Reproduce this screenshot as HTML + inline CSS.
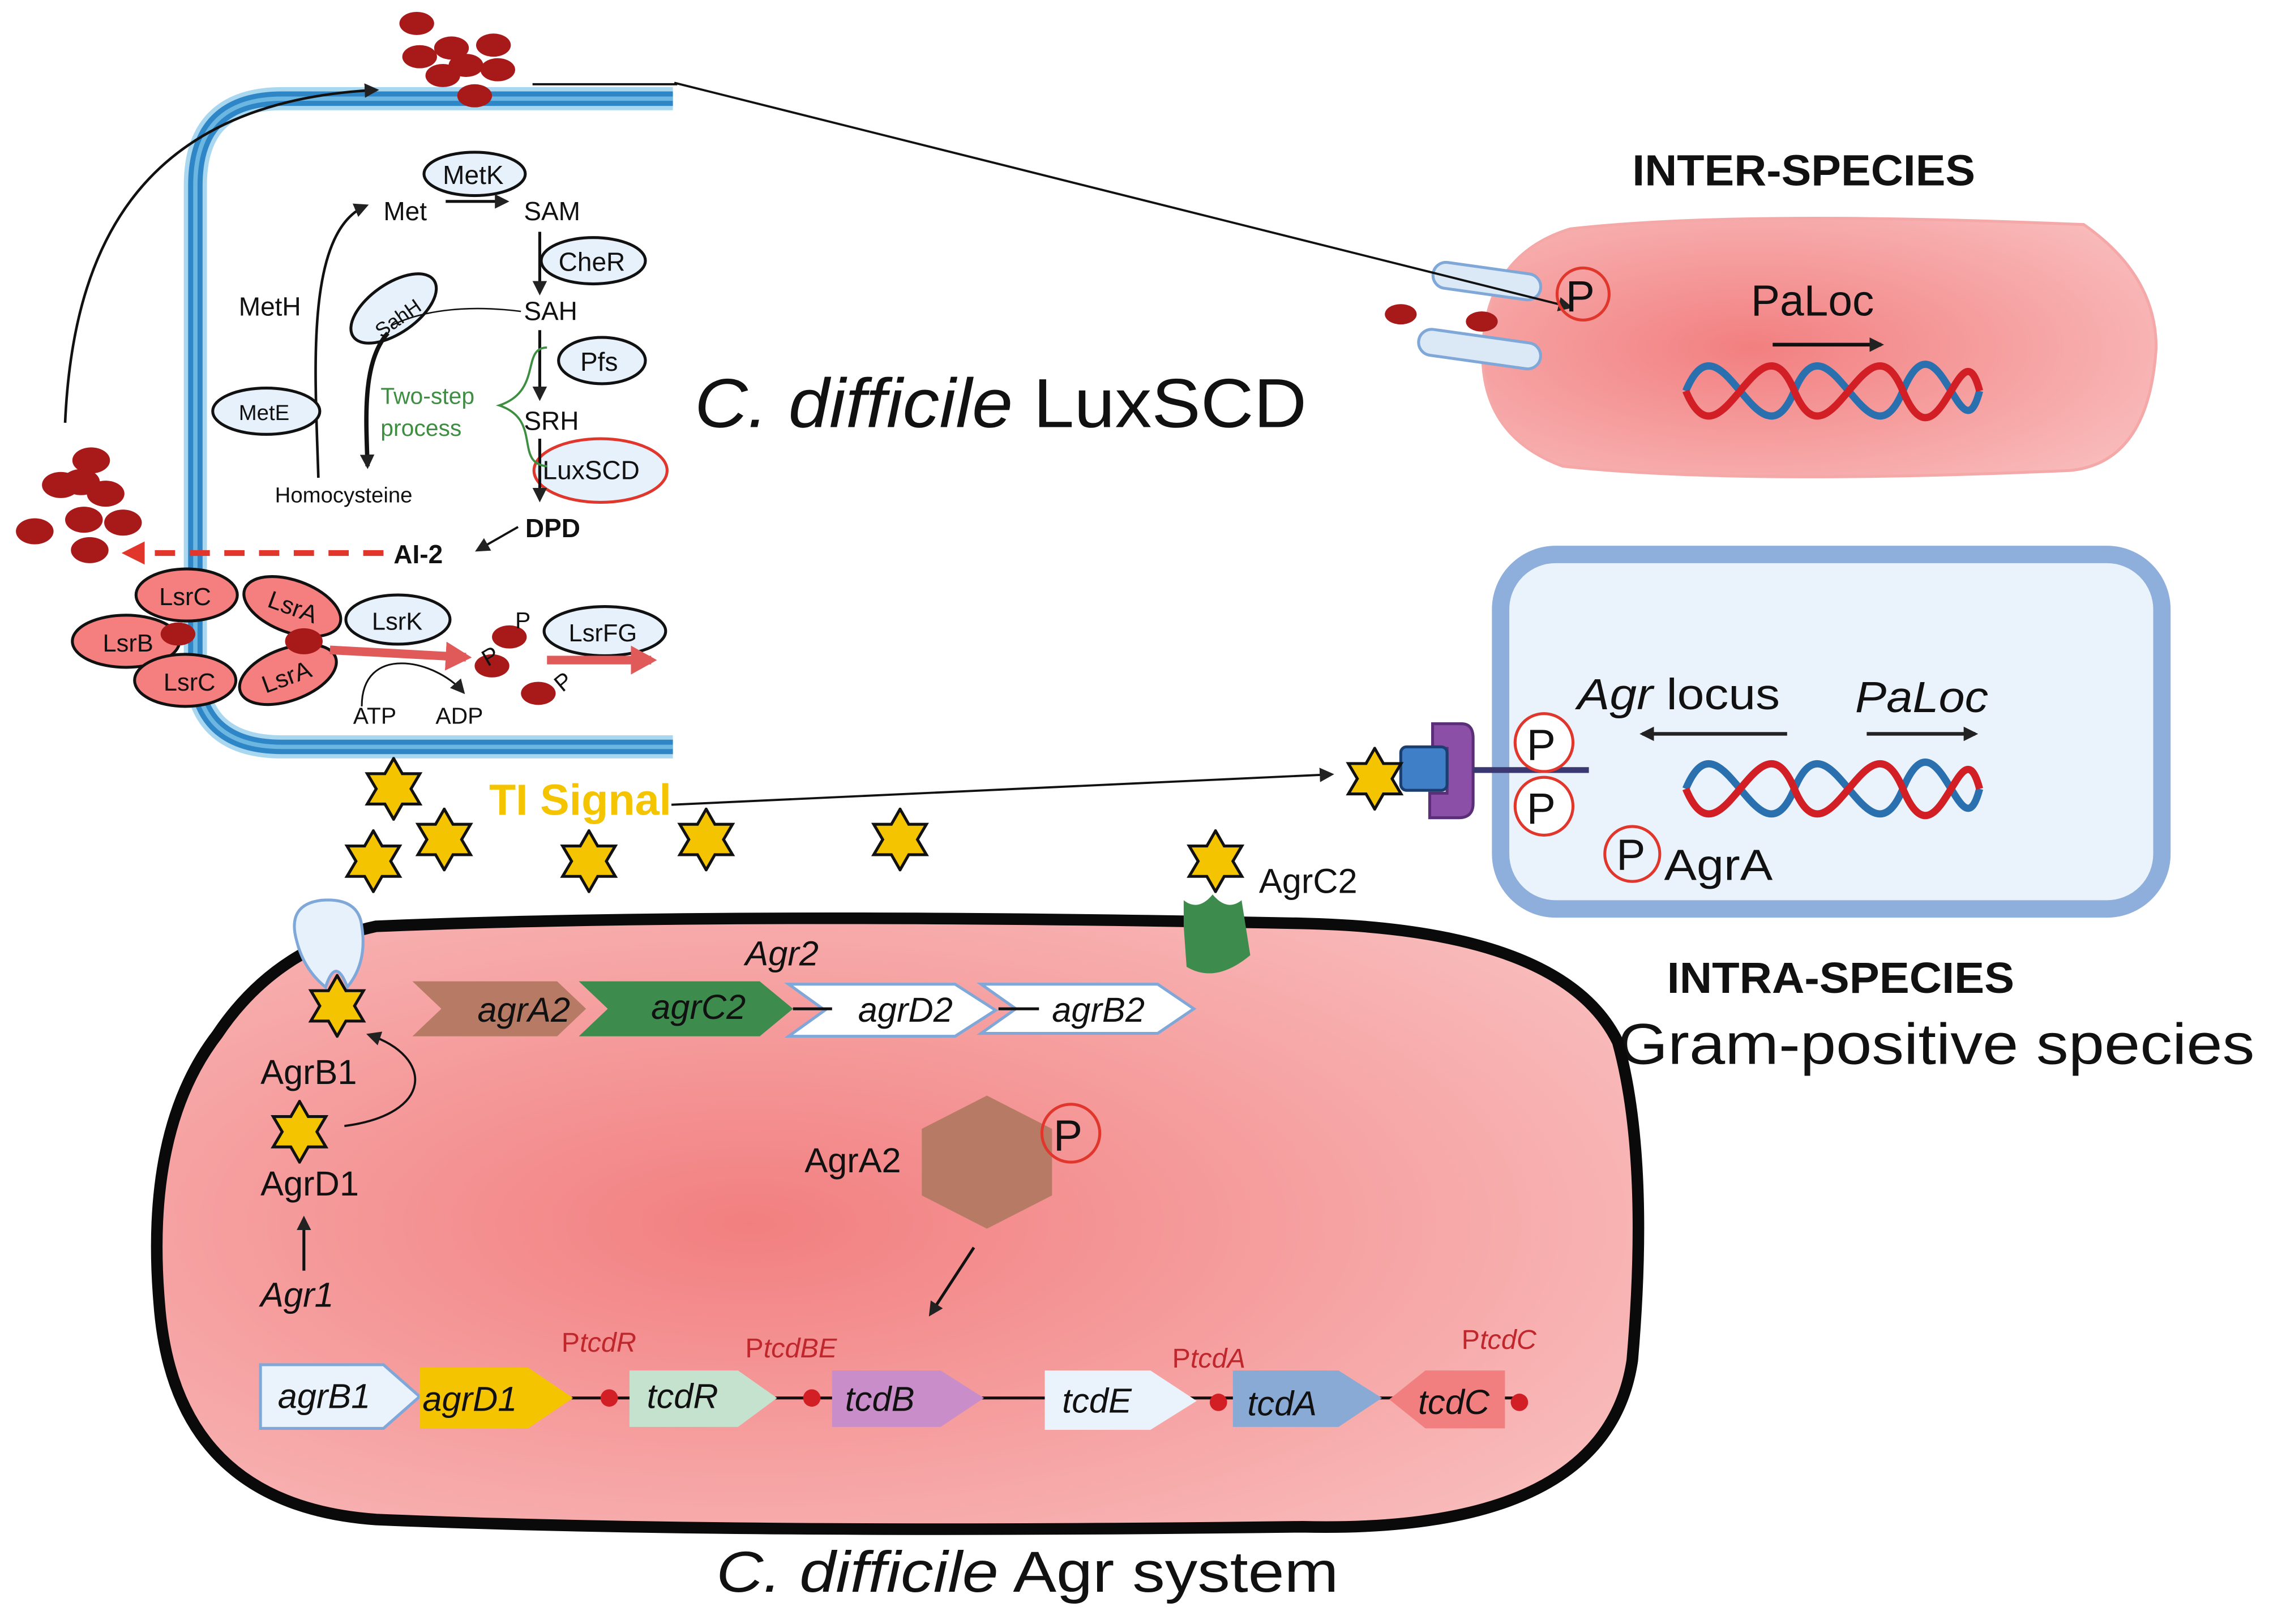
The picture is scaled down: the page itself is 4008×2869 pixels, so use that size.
<!DOCTYPE html>
<html><head><meta charset="utf-8"><style>
html,body{margin:0;padding:0;background:#fff}
svg{display:block}
text{font-family:"Liberation Sans",sans-serif}
</style></head><body>
<svg width="4008" height="2869" viewBox="0 0 1568 1122" xmlns="http://www.w3.org/2000/svg">
<defs>
<radialGradient id="pk" cx="0.4" cy="0.5" r="0.7">
<stop offset="0" stop-color="#f27f80"/><stop offset="1" stop-color="#f9bcbc"/></radialGradient>
<marker id="ah" markerWidth="10" markerHeight="10" refX="8" refY="5" orient="auto" markerUnits="userSpaceOnUse"><path d="M0,0 L10,5 L0,10 z" fill="#222"/></marker>
<marker id="ahr" markerWidth="16" markerHeight="16" refX="12" refY="8" orient="auto" markerUnits="userSpaceOnUse"><path d="M0,0 L16,8 L0,16 z" fill="#e0362c"/></marker>
<marker id="ahp" markerWidth="18" markerHeight="20" refX="14" refY="10" orient="auto" markerUnits="userSpaceOnUse"><path d="M0,0 L18,10 L0,20 z" fill="#e05a5a"/></marker>
<symbol id="st" viewBox="-22 -22 44 44"><path d="M0,-21 L6,-10.5 L18.2,-10.5 L12,0 L18.2,10.5 L6,10.5 L0,21 L-6,10.5 L-18.2,10.5 L-12,0 L-18.2,-10.5 L-6,-10.5 Z" fill="#f5c400" stroke="#111" stroke-width="2"/></symbol>
</defs>

<!-- top-left membrane -->
<path d="M465,68 L195,68 Q135,68 135,128 L135,458 Q135,516 195,516 L465,516" fill="none" stroke="#a9d7f0" stroke-width="16"/>
<path d="M465,68 L195,68 Q135,68 135,128 L135,458 Q135,516 195,516 L465,516" fill="none" stroke="#2f86c6" stroke-width="10"/>
<path d="M465,68 L195,68 Q135,68 135,128 L135,458 Q135,516 195,516 L465,516" fill="none" stroke="#6cb7e2" stroke-width="3"/>

<!-- red particles top -->
<g fill="#a8191a">
<ellipse cx="288" cy="16" rx="12" ry="8"/><ellipse cx="312" cy="33" rx="12" ry="8"/><ellipse cx="341" cy="31" rx="12" ry="8"/>
<ellipse cx="290" cy="39" rx="12" ry="8"/><ellipse cx="322" cy="45" rx="12" ry="8"/><ellipse cx="344" cy="48" rx="12" ry="8"/>
<ellipse cx="306" cy="52" rx="12" ry="8"/><ellipse cx="328" cy="66" rx="12" ry="8"/>
<ellipse cx="63" cy="318" rx="13" ry="9"/><ellipse cx="42" cy="335" rx="13" ry="9"/><ellipse cx="73" cy="341" rx="13" ry="9"/><ellipse cx="56" cy="333" rx="13" ry="9"/>
<ellipse cx="24" cy="367" rx="13" ry="9"/><ellipse cx="58" cy="359" rx="13" ry="9"/><ellipse cx="85" cy="361" rx="13" ry="9"/><ellipse cx="62" cy="380" rx="13" ry="9"/>
</g>
<path d="M45,292 C50,180 90,70 260,62" fill="none" stroke="#111" stroke-width="1.8" marker-end="url(#ah)"/>
<line x1="368" y1="58" x2="468" y2="58" stroke="#111" stroke-width="1.5"/>

<!-- pathway -->
<g font-size="18" fill="#111">
<ellipse cx="328" cy="120" rx="35" ry="15" fill="#e6f1fb" stroke="#111" stroke-width="2"/><text x="306" y="127">MetK</text>
<text x="265" y="152">Met</text><text x="362" y="152">SAM</text>
<line x1="308" y1="139" x2="350" y2="139" stroke="#111" stroke-width="2" marker-end="url(#ah)"/>
<ellipse cx="410" cy="180" rx="36" ry="16" fill="#e6f1fb" stroke="#111" stroke-width="2"/><text x="386" y="187">CheR</text>
<line x1="373" y1="160" x2="373" y2="202" stroke="#111" stroke-width="2" marker-end="url(#ah)"/>
<text x="362" y="221">SAH</text>
<ellipse cx="272" cy="213" rx="34" ry="17" transform="rotate(-35 272 213)" fill="#e6f1fb" stroke="#111" stroke-width="2"/>
<text x="256" y="226" font-size="14" transform="rotate(-35 272 218)">SahH</text>
<path d="M360,215 C320,210 290,215 270,225" fill="none" stroke="#111" stroke-width="1"/>
<path d="M268,230 C250,250 253,290 254,322" fill="none" stroke="#111" stroke-width="3" marker-end="url(#ah)"/>
<ellipse cx="416" cy="249" rx="30" ry="16" fill="#e6f1fb" stroke="#111" stroke-width="2"/><text x="401" y="256">Pfs</text>
<line x1="373" y1="228" x2="373" y2="275" stroke="#111" stroke-width="2" marker-end="url(#ah)"/>
<text x="362" y="297">SRH</text>
<ellipse cx="415" cy="325" rx="46" ry="22" fill="#e6f1fb" stroke="#e0362c" stroke-width="2"/><text x="375" y="331">LuxSCD</text>
<line x1="373" y1="303" x2="373" y2="345" stroke="#111" stroke-width="2" marker-end="url(#ah)"/>
<path d="M378,240 C360,240 375,270 345,280 C375,290 355,320 378,322" fill="none" stroke="#3e8e41" stroke-width="1.5"/>
<text x="263" y="279" fill="#3e8e41" font-size="16">Two-step</text><text x="263" y="301" fill="#3e8e41" font-size="16">process</text>
<text x="165" y="218">MetH</text>
<path d="M220,330 C218,260 210,160 253,142" fill="none" stroke="#111" stroke-width="1.8" marker-end="url(#ah)"/>
<ellipse cx="184" cy="284" rx="37" ry="16" fill="#e6f1fb" stroke="#111" stroke-width="2"/><text x="165" y="290" font-size="15">MetE</text>
<text x="190" y="347" font-size="15">Homocysteine</text>
<text x="363" y="371" font-weight="bold">DPD</text>
<line x1="358" y1="364" x2="330" y2="380" stroke="#111" stroke-width="1.5" marker-end="url(#ah)"/>
<text x="272" y="389" font-weight="bold">AI-2</text>
</g>
<line x1="265" y1="382" x2="88" y2="382" stroke="#e0362c" stroke-width="4" stroke-dasharray="14,10" marker-end="url(#ahr)"/>

<!-- Lsr -->
<g font-size="17" fill="#111" stroke-width="2">
<ellipse cx="129" cy="411" rx="35" ry="18" fill="#f47f7e" stroke="#111"/><text x="110" y="418">LsrC</text>
<ellipse cx="87" cy="443" rx="37" ry="18" fill="#f47f7e" stroke="#111"/><text x="71" y="450">LsrB</text>
<ellipse cx="128" cy="470" rx="35" ry="18" fill="#f47f7e" stroke="#111"/><text x="113" y="477">LsrC</text>
<ellipse cx="202" cy="419" rx="35" ry="18" transform="rotate(20 202 419)" fill="#f47f7e" stroke="#111"/><text x="185" y="425" transform="rotate(20 202 419)">LsrA</text>
<ellipse cx="199" cy="466" rx="35" ry="18" transform="rotate(-20 199 466)" fill="#f47f7e" stroke="#111"/><text x="180" y="473" transform="rotate(-20 199 466)">LsrA</text>
<ellipse cx="275" cy="428" rx="36" ry="17" fill="#e6f1fb" stroke="#111"/><text x="257" y="435">LsrK</text>
<ellipse cx="418" cy="436" rx="42" ry="17" fill="#e6f1fb" stroke="#111"/><text x="393" y="443">LsrFG</text>
</g>
<g fill="#a8191a"><ellipse cx="123" cy="438" rx="12" ry="8"/><ellipse cx="210" cy="443" rx="13" ry="9"/>
<ellipse cx="352" cy="440" rx="12" ry="8"/><ellipse cx="340" cy="460" rx="12" ry="8"/><ellipse cx="372" cy="479" rx="12" ry="8"/></g>
<g font-size="16" fill="#111"><text x="356" y="434">P</text><text x="333" y="458" transform="rotate(-30 340 452)">P</text><text x="383" y="477" transform="rotate(-40 388 470)">P</text>
<text x="244" y="500">ATP</text><text x="301" y="500">ADP</text></g>
<path d="M250,488 C250,445 300,455 320,478" fill="none" stroke="#111" stroke-width="1.2" marker-end="url(#ah)"/>
<line x1="228" y1="449" x2="322" y2="454" stroke="#e05a5a" stroke-width="6" marker-end="url(#ahp)"/>
<line x1="378" y1="456" x2="450" y2="456" stroke="#e05a5a" stroke-width="6" marker-end="url(#ahp)"/>

<text x="480" y="295" font-size="48" fill="#111" textLength="423" lengthAdjust="spacingAndGlyphs"><tspan font-style="italic">C. difficile</tspan> LuxSCD</text>

<!-- inter-species cell -->
<text x="1128" y="128" font-size="30" font-weight="bold" fill="#111" textLength="237" lengthAdjust="spacingAndGlyphs">INTER-SPECIES</text>
<path d="M1085,158 Q1200,145 1440,155 Q1490,190 1490,240 Q1485,320 1430,325 Q1200,335 1080,322 Q1020,300 1025,235 Q1030,175 1085,158 Z" fill="url(#pk)" stroke="#f5a8a8" stroke-width="2"/>
<g fill="#a8191a"><ellipse cx="968" cy="217" rx="11" ry="7"/><ellipse cx="1024" cy="222" rx="11" ry="7"/></g>
<rect x="990" y="185" width="75" height="18" rx="9" fill="#dbe9f7" stroke="#7fa7d8" stroke-width="2" transform="rotate(8 1027 194)"/>
<rect x="980" y="232" width="85" height="18" rx="9" fill="#dbe9f7" stroke="#7fa7d8" stroke-width="2" transform="rotate(8 1022 241)"/>
<line x1="466" y1="57" x2="1085" y2="212" stroke="#111" stroke-width="1.5" marker-end="url(#ah)"/>
<circle cx="1094" cy="203" r="18" fill="none" stroke="#e0362c" stroke-width="2"/><text x="1082" y="215" font-size="30" fill="#111">P</text>
<text x="1210" y="218" font-size="30" fill="#111">PaLoc</text>
<line x1="1225" y1="238" x2="1300" y2="238" stroke="#111" stroke-width="2.5" marker-end="url(#ah)"/>
<g fill="none" stroke-width="5">
<path d="M1165,270 C1190,210 1215,330 1240,270 C1265,210 1290,330 1315,270 C1340,210 1355,320 1368,270" stroke="#2a6fae"/>
<path d="M1165,270 C1190,330 1215,210 1240,270 C1265,330 1290,210 1315,270 C1340,330 1355,220 1368,270" stroke="#d11f25"/>
</g>

<!-- intra-species box -->
<rect x="1037" y="383" width="457" height="245" rx="38" fill="#eaf2fb" stroke="#8eaedc" stroke-width="12"/>
<text x="1090" y="490" font-size="30" fill="#111" textLength="140" lengthAdjust="spacingAndGlyphs"><tspan font-style="italic">Agr</tspan> locus</text>
<text x="1282" y="492" font-size="30" font-style="italic" fill="#111" textLength="92" lengthAdjust="spacingAndGlyphs">PaLoc</text>
<line x1="1235" y1="507" x2="1135" y2="507" stroke="#222" stroke-width="2.5" marker-end="url(#ah)"/>
<line x1="1290" y1="507" x2="1365" y2="507" stroke="#222" stroke-width="2.5" marker-end="url(#ah)"/>
<g fill="none" stroke-width="5">
<path d="M1165,545 C1190,485 1215,605 1240,545 C1265,485 1290,605 1315,545 C1340,485 1355,595 1368,545" stroke="#2a6fae"/>
<path d="M1165,545 C1190,605 1215,485 1240,545 C1265,605 1290,485 1315,545 C1340,605 1355,495 1368,545" stroke="#d11f25"/>
</g>
<path d="M990,500 L1010,500 Q1018,500 1018,510 L1018,555 Q1018,565 1008,565 L988,565 L988,548 L1000,548 L1000,517 L990,517 Z" fill="#8b4fa8" stroke="#5b2f78" stroke-width="2"/>
<rect x="968" y="516" width="32" height="30" rx="4" fill="#3f7fc8" stroke="#1b3f70" stroke-width="2"/>
<line x1="1018" y1="532" x2="1098" y2="532" stroke="#3b3770" stroke-width="4"/>
<g font-size="30" fill="#111">
<circle cx="1067" cy="513" r="20" fill="#fff" stroke="#e0362c" stroke-width="2"/><text x="1055" y="525">P</text>
<circle cx="1067" cy="557" r="20" fill="#fff" stroke="#e0362c" stroke-width="2"/><text x="1055" y="569">P</text>
<circle cx="1128" cy="590" r="19" fill="none" stroke="#e0362c" stroke-width="2"/><text x="1117" y="601">P</text>
<text x="1150" y="608" textLength="75" lengthAdjust="spacingAndGlyphs">AgrA</text>
</g>
<text x="1152" y="686" font-size="30" font-weight="bold" fill="#111" textLength="240" lengthAdjust="spacingAndGlyphs">INTRA-SPECIES</text>
<text x="1118" y="735" font-size="40" fill="#111" textLength="440" lengthAdjust="spacingAndGlyphs">Gram-positive species</text>

<!-- big cell -->
<path d="M260,640 Q500,630 900,638 Q1080,642 1118,720 Q1140,800 1128,940 Q1110,1060 900,1055 Q500,1060 260,1050 Q120,1040 110,900 Q100,780 150,715 Q190,655 260,640 Z" fill="url(#pk)" stroke="#0a0a0a" stroke-width="8"/>
<path d="M818,640 L818,622 Q828,630 838,618 Q848,630 858,622 L864,660 Q840,680 820,668 Z" fill="#3e8b4e"/>
<path d="M205,650 Q198,625 222,622 Q248,620 250,640 Q254,665 240,682 Q232,660 225,682 Q210,670 205,650 Z" fill="#e6f1fb" stroke="#7fa7d8" stroke-width="2"/>

<!-- stars -->
<use href="#st" x="250" y="523" width="44" height="44"/>
<use href="#st" x="236" y="573" width="44" height="44"/>
<use href="#st" x="285" y="558" width="44" height="44"/>
<use href="#st" x="385" y="573" width="44" height="44"/>
<use href="#st" x="466" y="558" width="44" height="44"/>
<use href="#st" x="600" y="558" width="44" height="44"/>
<use href="#st" x="818" y="573" width="44" height="44"/>
<use href="#st" x="211" y="673" width="44" height="44"/>
<use href="#st" x="185" y="760" width="44" height="44"/>
<use href="#st" x="928" y="516" width="44" height="44"/>
<text x="338" y="563" font-size="30" font-weight="bold" fill="#f5c400" textLength="126" lengthAdjust="spacingAndGlyphs">TI Signal</text>
<line x1="464" y1="556" x2="920" y2="535" stroke="#111" stroke-width="1.5" marker-end="url(#ah)"/>
<text x="870" y="617" font-size="24" fill="#111">AgrC2</text>

<!-- agr2 genes -->
<text x="515" y="667" font-size="24" font-style="italic" fill="#111">Agr2</text>
<path d="M285,678 L385,678 L405,697 L385,716 L285,716 L305,697 Z" fill="#b77b65"/>
<path d="M400,678 L525,678 L548,697 L525,716 L400,716 L420,697 Z" fill="#3e8b4e"/>
<path d="M545,680 L660,680 L688,698 L660,716 L545,716 L570,698 Z" fill="#fff" stroke="#7fa7d8" stroke-width="2"/>
<path d="M678,680 L800,680 L825,697 L800,714 L678,714 L702,697 Z" fill="#fff" stroke="#7fa7d8" stroke-width="2"/>
<line x1="548" y1="697" x2="575" y2="697" stroke="#111" stroke-width="2"/>
<line x1="690" y1="697" x2="718" y2="697" stroke="#111" stroke-width="2"/>
<g font-size="24" font-style="italic" fill="#111"><text x="330" y="706">agrA2</text><text x="450" y="704">agrC2</text><text x="593" y="706">agrD2</text><text x="727" y="706">agrB2</text></g>

<g font-size="24" fill="#111"><text x="180" y="749">AgrB1</text><text x="180" y="826">AgrD1</text><text x="180" y="903" font-style="italic">Agr1</text>
<text x="556" y="810">AgrA2</text></g>
<path d="M238,778 C300,770 300,730 255,715" fill="none" stroke="#111" stroke-width="1.5" marker-end="url(#ah)"/>
<line x1="210" y1="878" x2="210" y2="842" stroke="#111" stroke-width="2" marker-end="url(#ah)"/>
<path d="M682,757 L727,780 L727,826 L682,849 L637,826 L637,780 Z" fill="#b77b65"/>
<circle cx="740" cy="783" r="20" fill="none" stroke="#e0362c" stroke-width="2"/><text x="728" y="795" font-size="30" fill="#111">P</text>
<line x1="673" y1="862" x2="643" y2="908" stroke="#111" stroke-width="2" marker-end="url(#ah)"/>

<!-- bottom genes -->
<line x1="395" y1="966" x2="1050" y2="966" stroke="#111" stroke-width="2"/>
<path d="M180,943 L265,943 L290,965 L265,987 L180,987 Z" fill="#eaf2fb" stroke="#7fa7d8" stroke-width="2"/>
<path d="M290,945 L365,945 L396,966 L365,987 L290,987 Z" fill="#f5c400"/>
<path d="M435,947 L510,947 L537,966 L510,986 L435,986 Z" fill="#c5e2cf"/>
<path d="M575,947 L650,947 L680,966 L650,986 L575,986 Z" fill="#c98ec9"/>
<path d="M722,947 L795,947 L827,968 L795,988 L722,988 Z" fill="#eaf2fb"/>
<path d="M852,947 L925,947 L955,966 L925,986 L852,986 Z" fill="#8aaad6"/>
<path d="M985,947 L1040,947 L1040,987 L985,987 L960,967 Z" fill="#f27f80"/>
<g fill="#d11f25"><circle cx="421" cy="966" r="6"/><circle cx="561" cy="966" r="6"/><circle cx="842" cy="969" r="6"/><circle cx="1050" cy="969" r="6"/></g>
<g font-size="24" font-style="italic" fill="#111"><text x="192" y="973">agrB1</text><text x="292" y="975">agrD1</text><text x="447" y="973">tcdR</text><text x="584" y="975">tcdB</text><text x="734" y="976">tcdE</text><text x="862" y="978">tcdA</text><text x="980" y="977">tcdC</text></g>
<g font-size="19" fill="#c0272d"><text x="388" y="934">P<tspan font-style="italic">tcdR</tspan></text><text x="515" y="938">P<tspan font-style="italic">tcdBE</tspan></text><text x="810" y="945">P<tspan font-style="italic">tcdA</tspan></text><text x="1010" y="932">P<tspan font-style="italic">tcdC</tspan></text></g>

<text x="495" y="1100" font-size="40" fill="#111" textLength="430" lengthAdjust="spacingAndGlyphs"><tspan font-style="italic">C. difficile</tspan> Agr system</text>
</svg>
</body></html>
